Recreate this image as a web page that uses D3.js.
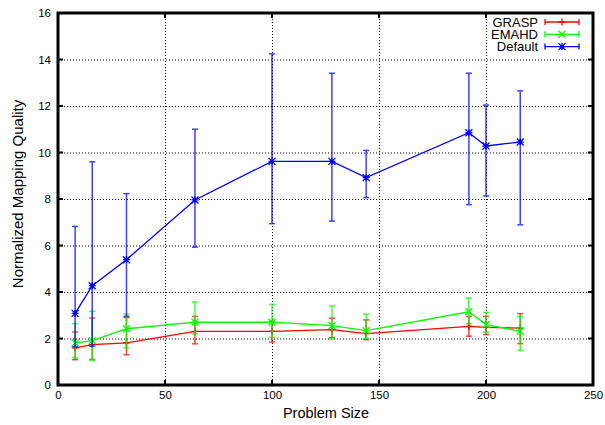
<!DOCTYPE html>
<html>
<head>
<meta charset="utf-8">
<script src="https://cdn.jsdelivr.net/npm/d3@7"></script>
<style>
  body { margin: 0; background: #fff; }
  svg { font-family: "Liberation Sans", Arial, sans-serif; }
</style>
</head>
<body>
<div id="chart"></div>
<script>
const sizes = [8, 16, 32, 64, 100, 128, 144, 192, 200, 216];

const graspMean = [1.6, 1.74, 1.81, 2.31, 2.31, 2.38, 2.21, 2.52, 2.48, 2.45];
const graspLow  = [1.09, 1.1, 1.3, 1.77, 1.85, 2.04, 1.95, 2.1, 2.17, 1.78];
const graspHigh = [2.28, 2.88, 2.9, 2.95, 2.75, 2.87, 2.8, 2.95, 2.95, 3.07];

const emahdMean = [1.81, 1.91, 2.42, 2.7, 2.7, 2.55, 2.34, 3.15, 2.6, 2.31];
const emahdLow  = [1.17, 1.05, 1.6, 2.2, 2.05, 1.98, 2.0, 2.63, 2.27, 1.49];
const emahdHigh = [2.64, 3.17, 3.05, 3.57, 3.47, 3.4, 3.05, 3.74, 3.12, 2.95];

const defMean = [3.08, 4.27, 5.39, 7.96, 9.62, 9.62, 8.92, 10.85, 10.28, 10.45];
const defLow  = [1.64, 1.67, 2.95, 5.93, 6.94, 7.05, 8.06, 7.76, 8.13, 6.89];
const defHigh = [6.82, 9.6, 8.23, 11.0, 14.24, 13.41, 10.09, 13.41, 12.04, 12.65];

const xTicks = [0, 50, 100, 150, 200, 250];
const yTicks = [0, 2, 4, 6, 8, 10, 12, 14, 16];

const series = [
  { name: "GRASP", color: "#ff0000", marker: "plus", mean: graspMean, low: graspLow, high: graspHigh },
  { name: "EMAHD", color: "#00ff00", marker: "cross", mean: emahdMean, low: emahdLow, high: emahdHigh },
  { name: "Default", color: "#0000ff", marker: "star", mean: defMean, low: defLow, high: defHigh }
];

const width = 605, height = 425;
const plotL = 58, plotR = 593, plotT = 13, plotB = 385;

const svg = d3.select("#chart").append("svg")
  .attr("width", width)
  .attr("height", height);

const xScale = d3.scaleLinear().domain([0, 250]).range([plotL, plotR]);
const yScale = d3.scaleLinear().domain([0, 16]).range([plotB, plotT]);

// grid
const grid = svg.append("g");
grid.selectAll("line.gx")
  .data(xTicks.slice(1, -1))
  .enter().append("line")
  .attr("x1", (d) => xScale(d) + 0.5).attr("x2", (d) => xScale(d) + 0.5)
  .attr("y1", plotT).attr("y2", plotB)
  .attr("stroke", "#000").attr("stroke-width", 1).attr("stroke-dasharray", "1,2");
grid.selectAll("line.gy")
  .data(yTicks.slice(1, -1))
  .enter().append("line")
  .attr("y1", (d) => yScale(d) + 0.5).attr("y2", (d) => yScale(d) + 0.5)
  .attr("x1", plotL).attr("x2", plotR)
  .attr("stroke", "#000").attr("stroke-width", 1).attr("stroke-dasharray", "1,2");

// axes
const xAxis = d3.axisBottom(xScale).tickValues(xTicks).tickSize(0).tickPadding(6);
svg.append("g")
  .attr("transform", "translate(0," + plotB + ")")
  .call(xAxis)
  .call((g) => g.select(".domain").remove())
  .selectAll("text").style("font-size", "11.5px").attr("fill", "#000");

const yAxis = d3.axisLeft(yScale).tickValues(yTicks).tickSize(0).tickPadding(7);
svg.append("g")
  .attr("transform", "translate(" + plotL + ",0)")
  .call(yAxis)
  .call((g) => g.select(".domain").remove())
  .selectAll("text").style("font-size", "11.5px").attr("fill", "#000");

// inward tick marks
const tk = svg.append("g").attr("stroke", "#000").attr("stroke-width", 2);
xTicks.forEach((d) => {
  tk.append("line").attr("x1", xScale(d)).attr("x2", xScale(d)).attr("y1", plotB).attr("y2", plotB - 5);
  tk.append("line").attr("x1", xScale(d)).attr("x2", xScale(d)).attr("y1", plotT).attr("y2", plotT + 5);
});
yTicks.forEach((d) => {
  tk.append("line").attr("y1", yScale(d)).attr("y2", yScale(d)).attr("x1", plotL).attr("x2", plotL + 5);
  tk.append("line").attr("y1", yScale(d)).attr("y2", yScale(d)).attr("x1", plotR).attr("x2", plotR - 5);
});

svg.append("text")
  .attr("x", 326)
  .attr("y", 418)
  .attr("text-anchor", "middle")
  .style("font-size", "14.5px")
  .text("Problem Size");

svg.append("text")
  .attr("transform", "rotate(-90)")
  .attr("x", -194)
  .attr("y", 23)
  .attr("text-anchor", "middle")
  .style("font-size", "15px")
  .text("Normalized Mapping Quality");

function drawMarker(g, type, x, y, color) {
  const s = 3.5;
  const p = g.append("path").attr("stroke", color).attr("stroke-width", 1.3).attr("fill", "none");
  let d = "";
  if (type === "plus" || type === "star") d += `M${x - s},${y}H${x + s}M${x},${y - s}V${y + s}`;
  if (type === "cross" || type === "star") d += `M${x - s},${y - s}L${x + s},${y + s}M${x - s},${y + s}L${x + s},${y - s}`;
  p.attr("d", d);
}

const line = d3.line().x((d) => xScale(d[0])).y((d) => yScale(d[1]));

series.forEach((s) => {
  const g = svg.append("g");
  const pts = sizes.map((x, i) => [x, s.mean[i], s.low[i], s.high[i]]);
  // error bars
  const eb = g.append("g").attr("stroke", s.color).attr("stroke-width", 1.5).attr("opacity", 0.75);
  pts.forEach((p) => {
    const x = xScale(p[0]);
    eb.append("line").attr("x1", x).attr("x2", x).attr("y1", yScale(p[2])).attr("y2", yScale(p[3]));
    eb.append("line").attr("x1", x - 3).attr("x2", x + 3).attr("y1", yScale(p[2])).attr("y2", yScale(p[2]));
    eb.append("line").attr("x1", x - 3).attr("x2", x + 3).attr("y1", yScale(p[3])).attr("y2", yScale(p[3]));
  });
  g.append("path")
    .datum(pts)
    .attr("d", line)
    .attr("fill", "none")
    .attr("stroke", s.color)
    .attr("stroke-width", 1.3);
  pts.forEach((p) => drawMarker(g, s.marker, xScale(p[0]), yScale(p[1]), s.color));
});

// legend
const legend = svg.append("g");
series.forEach((s, i) => {
  const y = 22 + i * 12.3;
  legend.append("text")
    .attr("x", 538)
    .attr("y", y + 4.5)
    .attr("text-anchor", "end")
    .style("font-size", "13px")
    .text(s.name);
  const lg = legend.append("g").attr("stroke", s.color).attr("stroke-width", 1.3);
  lg.append("line").attr("x1", 545).attr("x2", 579).attr("y1", y).attr("y2", y);
  lg.append("line").attr("x1", 545).attr("x2", 545).attr("y1", y - 3).attr("y2", y + 3);
  lg.append("line").attr("x1", 579).attr("x2", 579).attr("y1", y - 3).attr("y2", y + 3);
  drawMarker(legend, s.marker, 562, y, s.color);
});

// border
svg.append("rect")
  .attr("x", plotL).attr("y", plotT)
  .attr("width", plotR - plotL).attr("height", plotB - plotT)
  .attr("fill", "none")
  .attr("stroke", "#000")
  .attr("stroke-width", 3);
</script>
</body>
</html>
